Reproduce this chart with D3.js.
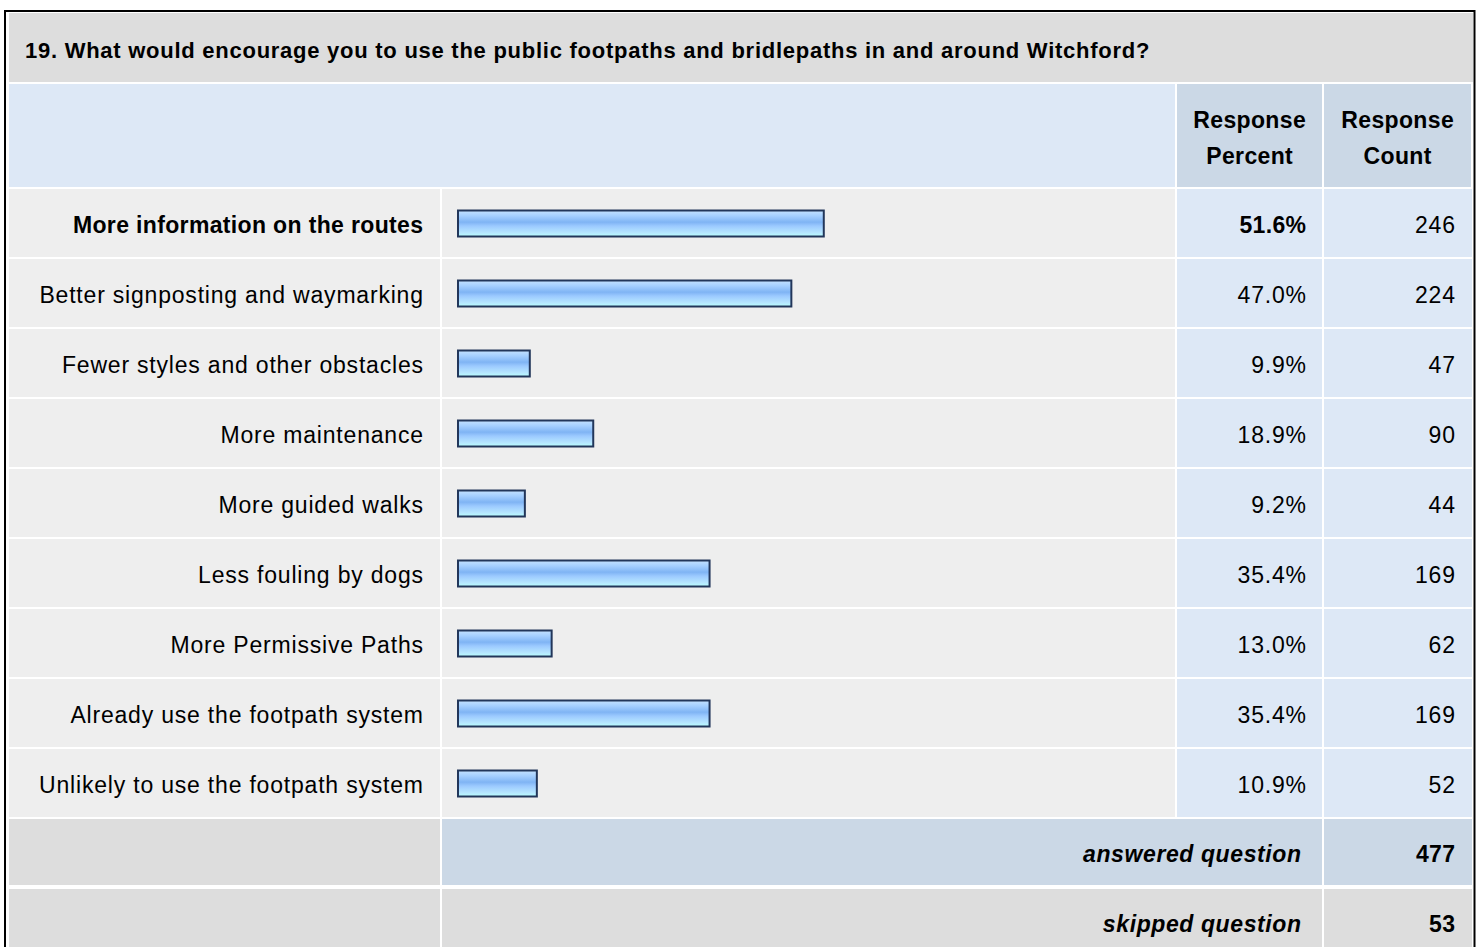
<!DOCTYPE html>
<html>
<head>
<meta charset="utf-8">
<script src="https://cdn.jsdelivr.net/npm/d3@7"></script>
<style>
  html, body { margin: 0; padding: 0; background: #ffffff; }
  svg { display: block; }
  text { font-family: "Liberation Sans", Arial, Helvetica, sans-serif; fill: #000; }
</style>
</head>
<body>
<svg id="chart" width="1483" height="947"></svg>
<script>
const title = "19. What would encourage you to use the public footpaths and bridlepaths in and around Witchford?";
const categories = [
  "More information on the routes",
  "Better signposting and waymarking",
  "Fewer styles and other obstacles",
  "More maintenance",
  "More guided walks",
  "Less fouling by dogs",
  "More Permissive Paths",
  "Already use the footpath system",
  "Unlikely to use the footpath system"
];
const percents = [51.6, 47.0, 9.9, 18.9, 9.2, 35.4, 13.0, 35.4, 10.9];
const counts = [246, 224, 47, 90, 44, 169, 62, 169, 52];
const headerLabels = [["Response", "Percent"], ["Response", "Count"]];
const summaryLabels = ["answered question", "skipped question"];
const summaryCounts = [477, 53];

const svg = d3.select("#chart");

// layout
const colX = [9, 442, 1177, 1324, 1473]; // label, bar, percent, count, end
const titleTop = 13, titleBottom = 82;
const headTop = 84, headBottom = 187;
const rowTop = 189, rowH = 70;
const fs = 23;
const lsReg = 0.8, lsBold = 0.35, lsBI = 0.6;

// outer border
svg.append("rect").attr("x", 5).attr("y", 11).attr("width", 1469.5).attr("height", 960)
  .attr("fill", "#ffffff").attr("stroke", "#000").attr("stroke-width", 2);

// title
svg.append("rect").attr("x", colX[0]).attr("y", titleTop).attr("width", colX[4] - colX[0]).attr("height", titleBottom - titleTop)
  .attr("fill", "#dddddd");
svg.append("text").attr("x", 25).attr("y", 58).attr("font-size", 22).attr("font-weight", "bold")
  .attr("letter-spacing", 0.74).text(title);

// header row
svg.append("rect").attr("x", colX[0]).attr("y", headTop).attr("width", colX[2] - 2 - colX[0]).attr("height", headBottom - headTop)
  .attr("fill", "#dde8f6");
headerLabels.forEach((lines, i) => {
  const x0 = colX[2 + i], x1 = colX[3 + i] - 2;
  svg.append("rect").attr("x", x0).attr("y", headTop).attr("width", x1 - x0).attr("height", headBottom - headTop).attr("fill", "#cbd8e6");
  lines.forEach((l, j) => {
    svg.append("text").attr("x", (x0 + x1) / 2 + lsBold / 2).attr("y", 128 + j * 36).attr("text-anchor", "middle")
      .attr("font-size", fs).attr("font-weight", "bold").attr("letter-spacing", lsBold).text(l);
  });
});

// scales
const x = d3.scaleLinear().domain([0, 100]).range([2, 707]);
const y = d3.scaleBand().domain(categories).range([rowTop, rowTop + rowH * categories.length]).paddingInner(0);

// gradient
const defs = svg.append("defs");
const grad = defs.append("linearGradient").attr("id", "barGrad").attr("x1", 0).attr("y1", 0).attr("x2", 0).attr("y2", 1);
[[0, "#c4e2ff"], [0.2, "#a6d0ff"], [0.45, "#7fb4f4"], [0.6, "#9ccaff"], [0.85, "#b6e6ff"], [1, "#b8ffff"]]
  .forEach(([o, c]) => grad.append("stop").attr("offset", o).attr("stop-color", c));

const rows = svg.append("g").selectAll("g").data(categories).join("g")
  .attr("transform", d => `translate(0,${y(d)})`);

rows.append("rect").attr("x", colX[0]).attr("width", colX[1] - 2 - colX[0]).attr("height", rowH - 2).attr("fill", "#eeeeee");
rows.append("rect").attr("x", colX[1]).attr("width", colX[2] - 2 - colX[1]).attr("height", rowH - 2).attr("fill", "#eeeeee");
rows.append("rect").attr("x", colX[2]).attr("width", colX[3] - 2 - colX[2]).attr("height", rowH - 2).attr("fill", "#dde8f6");
rows.append("rect").attr("x", colX[3]).attr("width", colX[4] - 1 - colX[3]).attr("height", rowH - 2).attr("fill", "#dde8f6");

rows.append("text").attr("x", (d, i) => colX[1] - 19 + (i === 0 ? lsBold : lsReg)).attr("y", 44).attr("text-anchor", "end").attr("font-size", fs)
  .attr("font-weight", (d, i) => i === 0 ? "bold" : "normal")
  .attr("letter-spacing", (d, i) => i === 0 ? lsBold : lsReg).text(d => d);

rows.append("rect").attr("x", 458).attr("y", 21.5).attr("height", 26)
  .attr("width", (d, i) => x(percents[i]))
  .attr("fill", "url(#barGrad)").attr("stroke", "#22365a").attr("stroke-width", 2);

rows.append("text").attr("x", (d, i) => colX[3] - 18 + (i === 0 ? lsBold : lsReg)).attr("y", 44).attr("text-anchor", "end").attr("font-size", fs)
  .attr("font-weight", (d, i) => i === 0 ? "bold" : "normal")
  .attr("letter-spacing", (d, i) => i === 0 ? lsBold : lsReg)
  .text((d, i) => percents[i].toFixed(1) + "%");
rows.append("text").attr("x", colX[4] - 18 + lsReg).attr("y", 44).attr("text-anchor", "end").attr("font-size", fs)
  .attr("letter-spacing", lsReg).text((d, i) => counts[i]);

// summary rows
const sumTop = rowTop + rowH * categories.length;
summaryLabels.forEach((lab, i) => {
  const top = sumTop + i * 68 + (i ? 2 : 0);
  const h = i ? 70 : 66;
  const fill = i === 0 ? "#cbd8e6" : "#dddddd";
  svg.append("rect").attr("x", colX[0]).attr("y", top).attr("width", colX[1] - 2 - colX[0]).attr("height", h).attr("fill", "#dddddd");
  svg.append("rect").attr("x", colX[1]).attr("y", top).attr("width", colX[3] - 2 - colX[1]).attr("height", h).attr("fill", fill);
  svg.append("rect").attr("x", colX[3]).attr("y", top).attr("width", colX[4] - 1 - colX[3]).attr("height", h).attr("fill", fill);
  svg.append("text").attr("x", colX[3] - 23 + lsBI).attr("y", top + 43).attr("text-anchor", "end").attr("font-size", fs)
    .attr("font-weight", "bold").attr("font-style", "italic").attr("letter-spacing", lsBI).text(lab);
  svg.append("text").attr("x", colX[4] - 18 + lsBold).attr("y", top + 43).attr("text-anchor", "end").attr("font-size", fs)
    .attr("font-weight", "bold").attr("letter-spacing", lsBold).text(summaryCounts[i]);
});
</script>
</body>
</html>
